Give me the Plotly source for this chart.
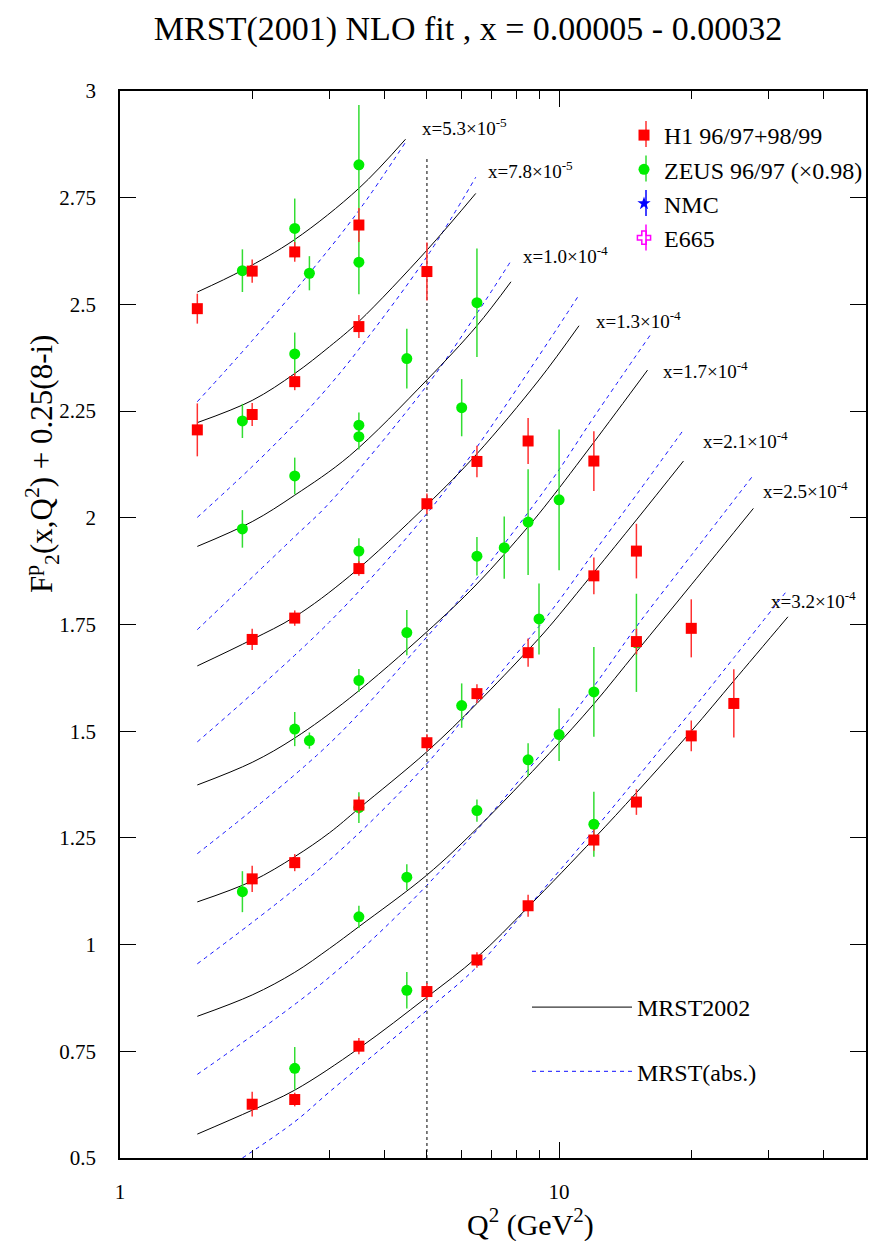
import plotly.graph_objects as go
import math

# ---------------- data ----------------
# H1 96/97+98/99 : Q^2, F2 + 0.25(8-i), error
h1_q2 = [1.5, 2.0, 2.5, 3.5, 5.0,
         1.5, 2.0, 2.5, 3.5,
         5.0, 6.5, 8.5, 12,
         2.0, 2.5, 3.5, 8.5, 12, 15, 20, 25,
         6.5, 5.0, 15,
         2.0, 2.5, 3.5,
         2.0, 2.5, 3.5, 5.0, 6.5, 8.5, 12, 15, 20]
h1_f2 = [2.490, 2.578, 2.623, 2.686, 2.577,
         2.206, 2.242, 2.319, 2.448,
         2.033, 2.132, 2.180, 2.133,
         1.715, 1.765, 1.881, 1.684, 1.864, 1.922, 1.741, 1.565,
         1.588, 1.473, 1.710,
         1.154, 1.192, 1.327,
         0.626, 0.637, 0.762, 0.890, 0.964, 1.091, 1.245, 1.334, 1.489]
h1_err = [0.035, 0.027, 0.023, 0.040, 0.068,
          0.062, 0.027, 0.020, 0.027,
          0.024, 0.037, 0.054, 0.070,
          0.025, 0.018, 0.017, 0.033, 0.043, 0.064, 0.068, 0.080,
          0.022, 0.020, 0.030,
          0.031, 0.020, 0.020,
          0.029, 0.016, 0.019, 0.020, 0.018, 0.026, 0.025, 0.030, 0.036]

# ZEUS 96/97 (x0.98)
zeus_q2 = [1.9, 2.5, 2.7, 3.5, 3.5,
           1.9, 2.5, 4.5, 3.5, 3.5, 6.0, 6.5,
           1.9, 2.5, 3.5, 6.5, 7.5, 8.5, 10,
           4.5, 9.0, 3.5, 6.0, 8.5, 10, 12, 15,
           2.5, 2.7, 1.9, 3.5, 6.5, 4.5, 3.5, 12,
           2.5, 4.5]
zeus_f2 = [2.579, 2.678, 2.573, 2.827, 2.599,
           2.227, 2.384, 2.373, 2.217, 2.190, 2.258, 2.504,
           1.974, 2.098, 1.922, 1.910, 1.930, 1.990, 2.042,
           1.731, 1.763, 1.619, 1.560, 1.433, 1.492, 1.592, 1.707,
           1.505, 1.478, 1.124, 1.321, 1.314, 1.158, 1.065, 1.282,
           0.710, 0.893]
zeus_err = [0.050, 0.070, 0.040, 0.140, 0.075,
            0.040, 0.050, 0.070, 0.030, 0.030, 0.067, 0.127,
            0.044, 0.043, 0.030, 0.045, 0.073, 0.124, 0.165,
            0.053, 0.083, 0.027, 0.052, 0.039, 0.062, 0.105, 0.115,
            0.040, 0.019, 0.048, 0.036, 0.026, 0.030, 0.026, 0.076,
            0.050, 0.043]

# x bins
x_bins = ["5.3", "7.8", "1.0", "1.3", "1.7", "2.1", "2.5", "3.2"]
x_exps = ["-5", "-5", "-4", "-4", "-4", "-4", "-4", "-4"]

# MRST2002 (solid) curves per bin
mrst_q2 = [
    [1.5, 1.9, 2.5, 3.5, 4.47],
    [1.5, 2.0, 2.5, 3.0, 3.5, 5.0, 6.46],
    [1.5, 2.0, 2.5, 3.33, 5.0, 6.5, 7.77],
    [1.5, 2.0, 2.5, 3.33, 5.0, 6.5, 9.0, 11.1],
    [1.5, 2.0, 2.5, 3.33, 5.0, 6.5, 8.5, 9.5, 12, 15.9],
    [1.5, 2.0, 2.5, 3.0, 3.5, 5.0, 6.5, 8.5, 9.5, 12, 15, 19.2],
    [1.5, 2.0, 2.5, 3.0, 3.5, 5.0, 6.5, 9.5, 12, 15, 20, 27.7],
    [1.5, 2.0, 2.5, 3.5, 5.0, 6.5, 8.5, 12, 15, 20, 25, 33.2],
]
mrst_f2 = [
    [2.529, 2.580, 2.652, 2.772, 2.887],
    [2.223, 2.275, 2.338, 2.401, 2.460, 2.627, 2.760],
    [1.933, 1.991, 2.053, 2.145, 2.323, 2.450, 2.553],
    [1.653, 1.715, 1.768, 1.863, 2.030, 2.150, 2.323, 2.450],
    [1.374, 1.427, 1.484, 1.577, 1.733, 1.845, 1.979, 2.040, 2.177, 2.346],
    [1.100, 1.149, 1.206, 1.262, 1.319, 1.452, 1.565, 1.690, 1.745, 1.872, 1.995, 2.133],
    [0.832, 0.882, 0.935, 0.991, 1.042, 1.163, 1.272, 1.448, 1.564, 1.686, 1.843, 2.022],
    [0.556, 0.612, 0.659, 0.757, 0.877, 0.970, 1.088, 1.248, 1.356, 1.500, 1.618, 1.768],
]

# MRST(abs.) (dashed) curves per bin
abs_q2 = [
    [1.5, 2.0, 2.7, 3.5, 4.47],
    [1.5, 2.0, 2.5, 3.0, 3.5, 5.0, 6.46],
    [1.5, 2.5, 3.0, 5.0, 6.5, 7.77],
    [1.5, 3.0, 5.0, 6.5, 9.5, 11.1],
    [1.5, 3.0, 5.0, 6.5, 9.5, 12, 16.1],
    [1.5, 3.0, 5.0, 6.5, 9.5, 12, 15, 19.2],
    [1.5, 3.0, 5.0, 9.5, 12, 15, 20, 27.7],
    [1.9, 2.5, 3.0, 5.0, 6.5, 8.5, 12, 20, 25, 33.2],
]
abs_f2 = [
    [2.272, 2.415, 2.573, 2.720, 2.880],
    [2.001, 2.120, 2.220, 2.310, 2.395, 2.612, 2.798],
    [1.738, 1.956, 2.035, 2.310, 2.479, 2.602],
    [1.475, 1.756, 2.010, 2.166, 2.416, 2.522],
    [1.213, 1.471, 1.721, 1.858, 2.080, 2.236, 2.427],
    [0.955, 1.198, 1.424, 1.570, 1.776, 1.919, 2.054, 2.206],
    [0.696, 0.924, 1.139, 1.470, 1.605, 1.745, 1.912, 2.100],
    [0.500, 0.585, 0.655, 0.846, 0.948, 1.088, 1.268, 1.547, 1.672, 1.832],
]

# vertical reference line at Q^2 = 5
vline_q2 = [5.0, 5.0]
vline_f2 = [0.5, 2.846]

# positions of the x-bin labels (annotation anchors)
label_q2 = [4.82, 6.83, 8.19, 12.0, 17.1, 21.0, 28.9, 30.1]
label_y = [2.916, 2.815, 2.616, 2.463, 2.346, 2.182, 2.065, 1.807]

FONT = "Liberation Serif, Times New Roman, serif"

# page offset (browser body margin) and figure geometry
OFF = 8
W, H = 881 - OFF, 1241 - OFF
PL, PR, PT, PB = 120, 866, 91, 1158      # plot box in page pixels
PW, PH = PR - PL, PB - PT


def px(sx):
    return (sx - PL) / PW


def py(sy):
    return (PB - sy) / PH


fig = go.Figure()

for i in range(len(abs_q2)):
    fig.add_trace(go.Scatter(
        x=abs_q2[i], y=abs_f2[i], mode="lines",
        line=dict(color="#1010ff", width=1, dash="4px,4px", shape="spline", smoothing=1.0),
        showlegend=False, hoverinfo="skip"))
for i in range(len(mrst_q2)):
    fig.add_trace(go.Scatter(
        x=mrst_q2[i], y=mrst_f2[i], mode="lines",
        line=dict(color="black", width=1, shape="spline", smoothing=1.0),
        showlegend=False, hoverinfo="skip"))

fig.add_trace(go.Scatter(
    x=vline_q2, y=vline_f2, mode="lines",
    line=dict(color="#555555", width=1.5, dash="dot"),
    showlegend=False, hoverinfo="skip"))

fig.add_trace(go.Scatter(
    x=zeus_q2, y=zeus_f2, mode="markers", name="ZEUS 96/97 (×0.98)",
    marker=dict(symbol="circle", size=11, color="#00ee00"),
    error_y=dict(type="data", array=zeus_err, color="#33dd33", thickness=1.5, width=0),
    legendgroup="b", legendrank=2))
fig.add_trace(go.Scatter(
    x=h1_q2, y=h1_f2, mode="markers", name="H1 96/97+98/99",
    marker=dict(symbol="square", size=11, color="#ff0000"),
    error_y=dict(type="data", array=h1_err, color="#ff3030", thickness=1.5, width=0),
    legendgroup="a", legendrank=1))
fig.add_trace(go.Scatter(
    x=[None], y=[None], mode="markers", name="NMC",
    marker=dict(symbol="star", size=10, color="#0000ff"),
    legendgroup="c", legendrank=3))
fig.add_trace(go.Scatter(
    x=[None], y=[None], mode="markers", name="E665",
    marker=dict(symbol="cross-open", size=11, color="#ff00ff",
                line=dict(color="#ff00ff", width=1.5)),
    legendgroup="d", legendrank=4))

# bottom legend: MRST lines
fig.add_trace(go.Scatter(x=[None], y=[None], mode="lines", name="MRST2002",
                         line=dict(color="black", width=1), legend="legend2",
                         legendgroup="e"))
fig.add_trace(go.Scatter(x=[None], y=[None], mode="lines", name="MRST(abs.)",
                         line=dict(color="#1010ff", width=1, dash="4px,4px"),
                         legend="legend2", legendgroup="f"))

# vertical error-bar strokes through the top legend symbols
leg_sym_x = 646
leg_rows = [134, 168.5, 203, 237.5]
leg_cols = ["#ff3030", "#33dd33", "#0000ff", "#ff00ff"]
for ry, c in zip(leg_rows, leg_cols):
    fig.add_shape(type="line", xref="paper", yref="paper",
                  x0=px(leg_sym_x), x1=px(leg_sym_x), y0=py(ry + 13), y1=py(ry - 13),
                  line=dict(color=c, width=1.5), layer="below")

for i in range(len(x_bins)):
    fig.add_annotation(
        x=math.log10(label_q2[i]), y=label_y[i], xref="x", yref="y",
        text="x=" + x_bins[i] + "×10<sup>" + x_exps[i] + "</sup>",
        showarrow=False, xanchor="left", yanchor="middle",
        font=dict(family=FONT, size=19, color="black"))

# axis titles as annotations
fig.add_annotation(
    x=px(530), y=py(1222), xref="paper", yref="paper",
    text="Q<sup>2</sup> (GeV<sup>2</sup>)", showarrow=False,
    xanchor="center", yanchor="middle", font=dict(family=FONT, size=30, color="black"))
fig.add_annotation(
    x=px(42), y=py(464), xref="paper", yref="paper",
    text="F<sup>p</sup><sub>2</sub>(x,Q<sup>2</sup>) + 0.25(8-i)", showarrow=False,
    textangle=-90, xanchor="center", yanchor="middle",
    font=dict(family=FONT, size=31, color="black"))

fig.update_layout(
    width=W, height=H,
    margin=dict(l=PL - OFF, r=W - (PR - OFF), t=PT - OFF, b=H - (PB - OFF)),
    paper_bgcolor="white", plot_bgcolor="white",
    font=dict(family=FONT, color="black"),
    title=dict(text="MRST(2001) NLO fit , x = 0.00005 - 0.00032",
               x=(468 - OFF) / W, xanchor="center", y=1 - (28 - OFF) / H, yanchor="middle",
               font=dict(family=FONT, size=34, color="black")),
    showlegend=True,
    legend=dict(x=px(leg_sym_x - 22), y=py(113), xanchor="left", yanchor="top",
                bgcolor="rgba(0,0,0,0)", font=dict(family=FONT, size=24, color="black"),
                tracegroupgap=3, itemwidth=30, traceorder="normal"),
    legend2=dict(x=px(527), y=py(985), xanchor="left", yanchor="top",
                 bgcolor="rgba(0,0,0,0)", font=dict(family=FONT, size=24, color="black"),
                 tracegroupgap=30, itemwidth=100),
)

fig.update_xaxes(
    type="log", range=[0, math.log10(50)],
    showline=True, linecolor="black", linewidth=1.5, mirror="allticks",
    ticks="inside", ticklen=16, tickcolor="black", tickwidth=1,
    tickvals=[1, 10], ticktext=["1", "10"],
    tickfont=dict(family=FONT, size=21, color="black"),
    ticklabelstandoff=14,
    minor=dict(tickvals=[2, 3, 4, 5, 6, 7, 8, 9, 20, 30, 40], ticks="inside",
               ticklen=8, tickcolor="black", tickwidth=1, showgrid=False),
    showgrid=False, zeroline=False)
fig.update_yaxes(
    range=[0.5, 3], dtick=0.25, tick0=0.5,
    showline=True, linecolor="black", linewidth=1.5, mirror="allticks",
    ticks="inside", ticklen=16, tickcolor="black", tickwidth=1,
    tickfont=dict(family=FONT, size=21, color="black"),
    ticklabelstandoff=18,
    showgrid=False, zeroline=False)

fig.write_html("out.html")
